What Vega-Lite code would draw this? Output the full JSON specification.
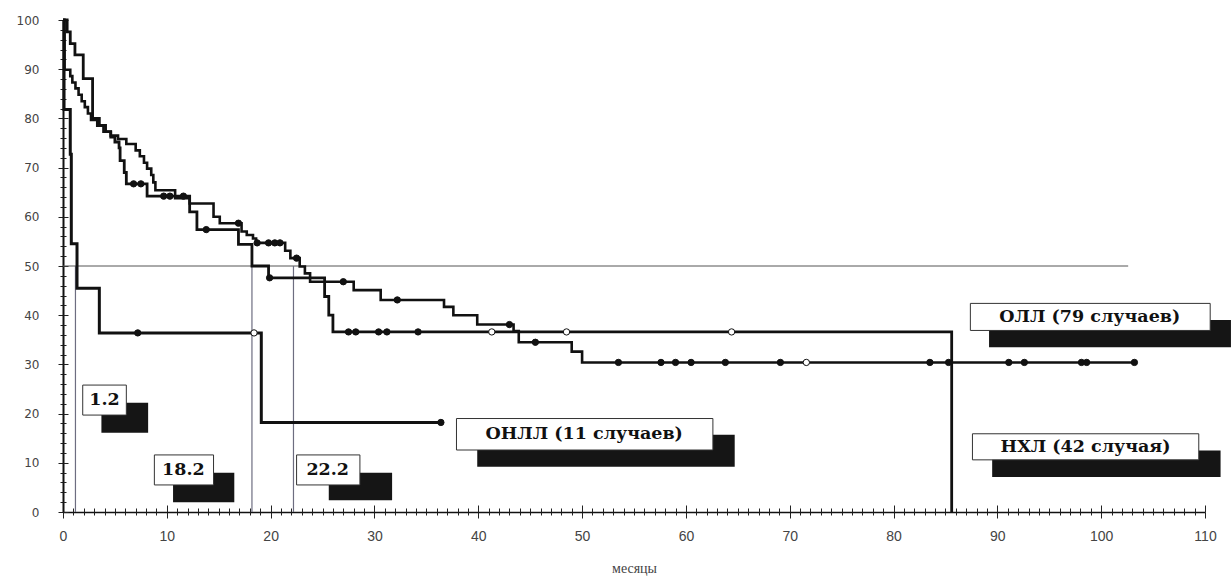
{
  "$schema": "https://vega.github.io/schema/vega-lite/v6.json",
  "width": 1142,
  "height": 492,
  "autosize": {"type": "none"},
  "padding": {"left": 63, "top": 20, "right": 26, "bottom": 68},
  "background": "white",
  "config": {"view": {"stroke": null}},
  "datasets": {
    "ref": [{"x": 0, "x2": 102.6, "y": 50}],
    "medians": [{"m": 1.2}, {"m": 18.2}, {"m": 22.2}],
    "curves": [
      {"g": "ОНЛЛ", "t": 0, "s": 100},
      {"g": "ОНЛЛ", "t": 0.1, "s": 81.8},
      {"g": "ОНЛЛ", "t": 0.7, "s": 72.7},
      {"g": "ОНЛЛ", "t": 0.8, "s": 54.5},
      {"g": "ОНЛЛ", "t": 1.35, "s": 45.5},
      {"g": "ОНЛЛ", "t": 3.5, "s": 36.4},
      {"g": "ОНЛЛ", "t": 19.1, "s": 18.2},
      {"g": "ОНЛЛ", "t": 36.4, "s": 18.2},
      {"g": "НХЛ", "t": 0, "s": 100},
      {"g": "НХЛ", "t": 0.4, "s": 97.6},
      {"g": "НХЛ", "t": 0.7, "s": 95.2},
      {"g": "НХЛ", "t": 1.15, "s": 92.9},
      {"g": "НХЛ", "t": 1.95, "s": 88.1},
      {"g": "НХЛ", "t": 2.85, "s": 80.0},
      {"g": "НХЛ", "t": 3.5, "s": 78.6},
      {"g": "НХЛ", "t": 4.1, "s": 77.3},
      {"g": "НХЛ", "t": 4.6, "s": 76.2},
      {"g": "НХЛ", "t": 5.0, "s": 75.2},
      {"g": "НХЛ", "t": 5.4, "s": 74.0},
      {"g": "НХЛ", "t": 5.5, "s": 71.4},
      {"g": "НХЛ", "t": 5.9, "s": 69.0},
      {"g": "НХЛ", "t": 6.1, "s": 66.7},
      {"g": "НХЛ", "t": 8.1, "s": 64.2},
      {"g": "НХЛ", "t": 12.2, "s": 61.0},
      {"g": "НХЛ", "t": 12.9, "s": 57.4},
      {"g": "НХЛ", "t": 16.9, "s": 54.4},
      {"g": "НХЛ", "t": 18.2, "s": 50.0},
      {"g": "НХЛ", "t": 19.8, "s": 47.6},
      {"g": "НХЛ", "t": 25.2, "s": 43.8},
      {"g": "НХЛ", "t": 25.6, "s": 40.0},
      {"g": "НХЛ", "t": 26.0, "s": 36.6},
      {"g": "НХЛ", "t": 85.6, "s": 0},
      {"g": "ОЛЛ", "t": 0, "s": 100},
      {"g": "ОЛЛ", "t": 0.15, "s": 89.9},
      {"g": "ОЛЛ", "t": 0.7, "s": 88.6},
      {"g": "ОЛЛ", "t": 0.9, "s": 87.3},
      {"g": "ОЛЛ", "t": 1.2, "s": 86.1},
      {"g": "ОЛЛ", "t": 1.5, "s": 84.8},
      {"g": "ОЛЛ", "t": 1.8, "s": 83.5},
      {"g": "ОЛЛ", "t": 2.1, "s": 82.3},
      {"g": "ОЛЛ", "t": 2.4, "s": 81.0},
      {"g": "ОЛЛ", "t": 2.7, "s": 79.7},
      {"g": "ОЛЛ", "t": 3.3, "s": 78.5},
      {"g": "ОЛЛ", "t": 3.9, "s": 77.3},
      {"g": "ОЛЛ", "t": 4.6, "s": 76.5},
      {"g": "ОЛЛ", "t": 5.3, "s": 75.8},
      {"g": "ОЛЛ", "t": 6.1, "s": 74.8},
      {"g": "ОЛЛ", "t": 7.0, "s": 73.5},
      {"g": "ОЛЛ", "t": 7.4, "s": 72.3},
      {"g": "ОЛЛ", "t": 7.8, "s": 71.0},
      {"g": "ОЛЛ", "t": 8.1, "s": 69.8},
      {"g": "ОЛЛ", "t": 8.5, "s": 68.5},
      {"g": "ОЛЛ", "t": 8.7, "s": 67.0},
      {"g": "ОЛЛ", "t": 8.9, "s": 65.4},
      {"g": "ОЛЛ", "t": 10.8, "s": 63.8},
      {"g": "ОЛЛ", "t": 12.2, "s": 62.7},
      {"g": "ОЛЛ", "t": 14.5, "s": 60.0},
      {"g": "ОЛЛ", "t": 15.1, "s": 58.7},
      {"g": "ОЛЛ", "t": 17.2, "s": 57.0},
      {"g": "ОЛЛ", "t": 17.7, "s": 56.3},
      {"g": "ОЛЛ", "t": 18.3, "s": 55.6},
      {"g": "ОЛЛ", "t": 18.6, "s": 54.7},
      {"g": "ОЛЛ", "t": 21.4, "s": 53.1},
      {"g": "ОЛЛ", "t": 21.9, "s": 51.6},
      {"g": "ОЛЛ", "t": 22.8, "s": 49.9},
      {"g": "ОЛЛ", "t": 23.3, "s": 48.5},
      {"g": "ОЛЛ", "t": 23.8, "s": 46.8},
      {"g": "ОЛЛ", "t": 28.0, "s": 45.1},
      {"g": "ОЛЛ", "t": 30.6, "s": 43.1},
      {"g": "ОЛЛ", "t": 36.7, "s": 41.7},
      {"g": "ОЛЛ", "t": 37.6, "s": 40.0},
      {"g": "ОЛЛ", "t": 39.9, "s": 38.1},
      {"g": "ОЛЛ", "t": 43.4, "s": 36.8},
      {"g": "ОЛЛ", "t": 43.9, "s": 34.5},
      {"g": "ОЛЛ", "t": 49.0, "s": 32.6},
      {"g": "ОЛЛ", "t": 50.0, "s": 30.4},
      {"g": "ОЛЛ", "t": 103.2, "s": 30.4}
    ],
    "cens": [
      {"g": "ОНЛЛ", "t": 7.2, "s": 36.4, "k": "f"},
      {"g": "ОНЛЛ", "t": 18.4, "s": 36.4, "k": "o"},
      {"g": "ОНЛЛ", "t": 36.4, "s": 18.2, "k": "f"},
      {"g": "НХЛ", "t": 6.8, "s": 66.7, "k": "f"},
      {"g": "НХЛ", "t": 7.5, "s": 66.7, "k": "f"},
      {"g": "НХЛ", "t": 9.7, "s": 64.2, "k": "f"},
      {"g": "НХЛ", "t": 10.3, "s": 64.2, "k": "f"},
      {"g": "НХЛ", "t": 11.6, "s": 64.2, "k": "f"},
      {"g": "НХЛ", "t": 13.8, "s": 57.4, "k": "f"},
      {"g": "НХЛ", "t": 19.9, "s": 47.6, "k": "f"},
      {"g": "НХЛ", "t": 27.5, "s": 36.6, "k": "f"},
      {"g": "НХЛ", "t": 28.2, "s": 36.6, "k": "f"},
      {"g": "НХЛ", "t": 30.4, "s": 36.6, "k": "f"},
      {"g": "НХЛ", "t": 31.2, "s": 36.6, "k": "f"},
      {"g": "НХЛ", "t": 34.2, "s": 36.6, "k": "f"},
      {"g": "НХЛ", "t": 41.3, "s": 36.6, "k": "o"},
      {"g": "НХЛ", "t": 48.5, "s": 36.6, "k": "o"},
      {"g": "НХЛ", "t": 64.4, "s": 36.6, "k": "o"},
      {"g": "ОЛЛ", "t": 16.9, "s": 58.7, "k": "f"},
      {"g": "ОЛЛ", "t": 18.7, "s": 54.7, "k": "f"},
      {"g": "ОЛЛ", "t": 19.8, "s": 54.7, "k": "f"},
      {"g": "ОЛЛ", "t": 20.4, "s": 54.7, "k": "f"},
      {"g": "ОЛЛ", "t": 20.9, "s": 54.7, "k": "f"},
      {"g": "ОЛЛ", "t": 22.5, "s": 51.6, "k": "f"},
      {"g": "ОЛЛ", "t": 27.0, "s": 46.8, "k": "f"},
      {"g": "ОЛЛ", "t": 32.2, "s": 43.1, "k": "f"},
      {"g": "ОЛЛ", "t": 43.0, "s": 38.1, "k": "f"},
      {"g": "ОЛЛ", "t": 45.5, "s": 34.5, "k": "f"},
      {"g": "ОЛЛ", "t": 53.5, "s": 30.4, "k": "f"},
      {"g": "ОЛЛ", "t": 57.6, "s": 30.4, "k": "f"},
      {"g": "ОЛЛ", "t": 59.0, "s": 30.4, "k": "f"},
      {"g": "ОЛЛ", "t": 60.5, "s": 30.4, "k": "f"},
      {"g": "ОЛЛ", "t": 63.8, "s": 30.4, "k": "f"},
      {"g": "ОЛЛ", "t": 69.1, "s": 30.4, "k": "f"},
      {"g": "ОЛЛ", "t": 71.6, "s": 30.4, "k": "o"},
      {"g": "ОЛЛ", "t": 83.5, "s": 30.4, "k": "f"},
      {"g": "ОЛЛ", "t": 85.3, "s": 30.4, "k": "f"},
      {"g": "ОЛЛ", "t": 91.1, "s": 30.4, "k": "f"},
      {"g": "ОЛЛ", "t": 92.6, "s": 30.4, "k": "f"},
      {"g": "ОЛЛ", "t": 98.1, "s": 30.4, "k": "f"},
      {"g": "ОЛЛ", "t": 98.6, "s": 30.4, "k": "f"},
      {"g": "ОЛЛ", "t": 103.2, "s": 30.4, "k": "f"}
    ],
    "shadows": [
      {"x": 3.7, "x2": 8.2, "y": 16.1, "y2": 22.2},
      {"x": 10.6, "x2": 16.5, "y": 2.0, "y2": 8.0},
      {"x": 25.6, "x2": 31.7, "y": 2.4, "y2": 8.0},
      {"x": 39.9, "x2": 64.7, "y": 9.2, "y2": 15.7},
      {"x": 89.2, "x2": 112.5, "y": 33.5, "y2": 39.0},
      {"x": 89.5, "x2": 111.5, "y": 7.1, "y2": 12.5}
    ],
    "boxes": [
      {"x": 1.9, "x2": 6.1, "y": 19.7, "y2": 25.8},
      {"x": 8.8, "x2": 14.5, "y": 5.5, "y2": 11.6},
      {"x": 22.5, "x2": 28.6, "y": 5.5, "y2": 11.6},
      {"x": 37.9, "x2": 62.6, "y": 12.6, "y2": 19.0},
      {"x": 87.4, "x2": 110.5, "y": 36.9, "y2": 42.4},
      {"x": 87.6, "x2": 109.4, "y": 10.6, "y2": 15.9}
    ],
    "labels": [
      {"x": 4.0, "y": 22.7, "text": "1.2"},
      {"x": 11.6, "y": 8.5, "text": "18.2"},
      {"x": 25.5, "y": 8.6, "text": "22.2"},
      {"x": 50.2, "y": 15.8, "text": "ОНЛЛ (11 случаев)"},
      {"x": 98.9, "y": 39.6, "text": "ОЛЛ (79 случаев)"},
      {"x": 98.5, "y": 13.2, "text": "НХЛ (42 случая)"}
    ]
  },
  "layer": [
    {
      "data": {"name": "ref"},
      "mark": {"type": "rule", "color": "#555", "strokeWidth": 1},
      "encoding": {
        "x": {
          "field": "x", "type": "quantitative",
          "scale": {"domain": [0, 110], "nice": false, "zero": false},
          "axis": {
            "orient": "bottom",
            "values": [0,1,2,3,4,5,6,7,8,9,10,11,12,13,14,15,16,17,18,19,20,21,22,23,24,25,26,27,28,29,30,31,32,33,34,35,36,37,38,39,40,41,42,43,44,45,46,47,48,49,50,51,52,53,54,55,56,57,58,59,60,61,62,63,64,65,66,67,68,69,70,71,72,73,74,75,76,77,78,79,80,81,82,83,84,85,86,87,88,89,90,91,92,93,94,95,96,97,98,99,100,101,102,103,104,105,106,107,108,109,110],
            "labelExpr": "datum.value % 10 === 0 ? datum.label : ''",
            "labelOverlap": false,
            "labelFlush": false,
            "tickSize": {"condition": {"test": "datum.value % 10 === 0", "value": 6}, "value": 3},
            "tickColor": "#222",
            "tickWidth": 1,
            "domainColor": "#111",
            "domainWidth": 1.5,
            "grid": false,
            "labelFont": "Liberation Sans Narrow, Liberation Sans",
            "labelFontSize": 14,
            "labelColor": "#444",
            "labelPadding": 11,
            "title": "месяцы",
            "titleFont": "Liberation Serif",
            "titleFontSize": 14,
            "titleFontWeight": "normal",
            "titleColor": "#444",
            "titlePadding": 18
          }
        },
        "x2": {"field": "x2"},
        "y": {
          "field": "y", "type": "quantitative",
          "scale": {"domain": [0, 100], "nice": false, "zero": false},
          "axis": {
            "orient": "left",
            "values": [0,2,4,6,8,10,12,14,16,18,20,22,24,26,28,30,32,34,36,38,40,42,44,46,48,50,52,54,56,58,60,62,64,66,68,70,72,74,76,78,80,82,84,86,88,90,92,94,96,98,100],
            "labelExpr": "datum.value % 10 === 0 ? datum.label : ''",
            "labelOverlap": false,
            "labelFlush": false,
            "tickSize": {"condition": {"test": "datum.value % 10 === 0", "value": 5}, "value": 3},
            "tickColor": "#222",
            "tickWidth": 1,
            "domainColor": "#111",
            "domainWidth": 2,
            "grid": false,
            "labelFont": "DejaVu Sans",
            "labelFontSize": 12,
            "labelColor": "#444",
            "labelPadding": 19,
            "title": null
          }
        }
      }
    },
    {
      "data": {"name": "medians"},
      "mark": {"type": "rule", "color": "#6d6d80", "strokeWidth": 1.2},
      "encoding": {
        "x": {
          "field": "m", "type": "quantitative",
          "axis": {
            "orient": "top",
            "offset": -492,
            "values": [0,1,2,3,4,5,6,7,8,9,10,11,12,13,14,15,16,17,18,19,20,21,22,23,24,25,26,27,28,29,30,31,32,33,34,35,36,37,38,39,40,41,42,43,44,45,46,47,48,49,50,51,52,53,54,55,56,57,58,59,60,61,62,63,64,65,66,67,68,69,70,71,72,73,74,75,76,77,78,79,80,81,82,83,84,85,86,87,88,89,90,91,92,93,94,95,96,97,98,99,100,101,102,103,104,105,106,107,108,109,110],
            "labels": false,
            "domain": false,
            "grid": false,
            "tickSize": {"condition": {"test": "datum.value % 10 === 0", "value": 7}, "value": 4},
            "tickColor": "#222",
            "tickWidth": 1,
            "title": null
          }
        },
        "y": {
          "datum": 0, "type": "quantitative",
          "axis": {
            "orient": "right",
            "offset": -1142,
            "values": [0,2,4,6,8,10,12,14,16,18,20,22,24,26,28,30,32,34,36,38,40,42,44,46,48,50,52,54,56,58,60,62,64,66,68,70,72,74,76,78,80,82,84,86,88,90,92,94,96,98,100],
            "labels": false,
            "domain": false,
            "grid": false,
            "tickSize": {"condition": {"test": "datum.value % 10 === 0", "value": 5}, "value": 3},
            "tickColor": "#222",
            "tickWidth": 1,
            "title": null
          }
        },
        "y2": {"datum": 50}
      }
    },
    {
      "data": {"name": "curves"},
      "mark": {"type": "line", "interpolate": "step-after", "color": "#111"},
      "encoding": {
        "x": {"field": "t", "type": "quantitative", "axis": null},
        "y": {"field": "s", "type": "quantitative", "axis": null},
        "detail": {"field": "g"},
        "strokeWidth": {
          "field": "g", "type": "nominal",
          "scale": {"domain": ["ОНЛЛ", "НХЛ", "ОЛЛ"], "range": [3, 2.6, 1.8]},
          "legend": null
        }
      }
    },
    {
      "data": {"name": "cens"},
      "mark": {"type": "point", "filled": true, "stroke": "#111", "strokeWidth": 1, "size": 40, "opacity": 1},
      "encoding": {
        "x": {"field": "t", "type": "quantitative", "axis": null},
        "y": {"field": "s", "type": "quantitative", "axis": null},
        "fill": {
          "field": "k", "type": "nominal",
          "scale": {"domain": ["f", "o"], "range": ["#111", "#ffffff"]},
          "legend": null
        }
      }
    },
    {
      "data": {"name": "shadows"},
      "mark": {"type": "rect", "color": "#151515"},
      "encoding": {
        "x": {"field": "x", "type": "quantitative", "axis": null},
        "x2": {"field": "x2"},
        "y": {"field": "y", "type": "quantitative", "axis": null},
        "y2": {"field": "y2"}
      }
    },
    {
      "data": {"name": "boxes"},
      "mark": {"type": "rect", "fill": "#ffffff", "stroke": "#333", "strokeWidth": 1},
      "encoding": {
        "x": {"field": "x", "type": "quantitative", "axis": null},
        "x2": {"field": "x2"},
        "y": {"field": "y", "type": "quantitative", "axis": null},
        "y2": {"field": "y2"}
      }
    },
    {
      "data": {"name": "labels"},
      "mark": {"type": "text", "font": "DejaVu Serif", "fontWeight": "bold", "fontSize": 17.5, "color": "#111", "align": "center", "baseline": "middle"},
      "encoding": {
        "x": {"field": "x", "type": "quantitative", "axis": null},
        "y": {"field": "y", "type": "quantitative", "axis": null},
        "text": {"field": "text"}
      }
    }
  ],
  "resolve": {"axis": {"x": "independent", "y": "independent"}}
}
